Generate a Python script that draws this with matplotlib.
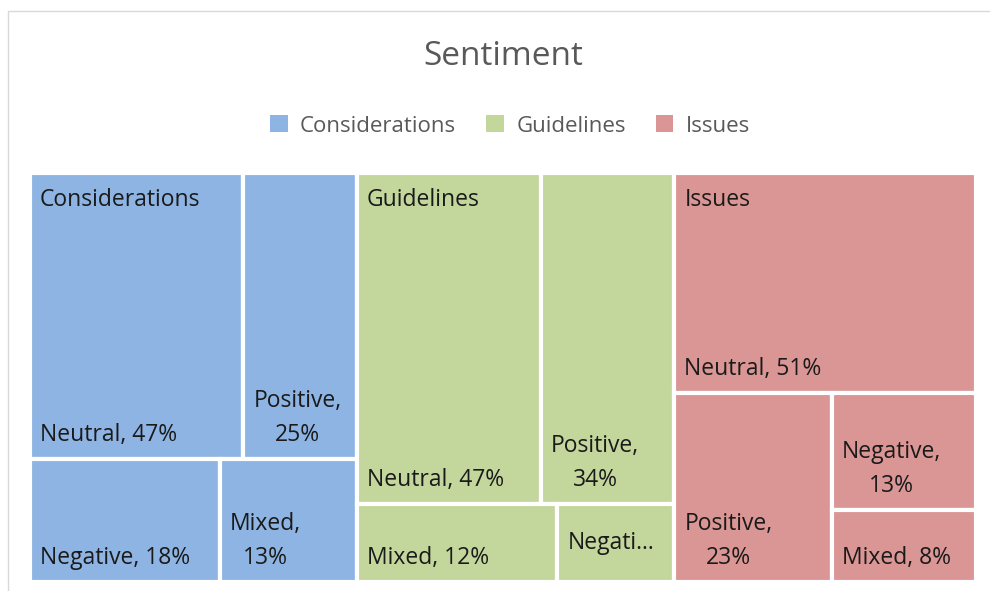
import matplotlib
matplotlib.use('Agg')
import matplotlib.pyplot as plt
from matplotlib.patches import Rectangle, Patch

plt.rcParams['font.family'] = ['Open Sans', 'DejaVu Sans']

groups = ['Considerations', 'Guidelines', 'Issues']
colors = ['#8EB4E3', '#C3D69B', '#D99694']

cons_labels = ['Neutral', 'Positive', 'Negative', 'Mixed']
cons_values = [47, 25, 18, 13]
guide_labels = ['Neutral', 'Positive', 'Mixed', 'Negative']
guide_values = [47, 34, 12, 7]
issue_labels = ['Neutral', 'Positive', 'Negative', 'Mixed']
issue_values = [51, 23, 13, 8]

# how Excel split each group: 'row' = side by side, 'col' = stacked
cons_layout = ('col', [('row', [0, 1]), ('row', [2, 3])])
guide_layout = ('col', [('row', [0, 1]), ('row', [2, 3])])
issue_layout = ('col', [0, ('row', [1, ('col', [2, 3])])])

all_labels = [cons_labels, guide_labels, issue_labels]
all_values = [cons_values, guide_values, issue_values]
layouts = [cons_layout, guide_layout, issue_layout]


def total(node, vals):
    if isinstance(node, int):
        return vals[node]
    return sum(total(c, vals) for c in node[1])


def split(node, vals, x, y, w, h, out):
    if isinstance(node, int):
        out[node] = (x, y, w, h)
        return
    s = total(node, vals)
    off = 0
    for c in node[1]:
        f = total(c, vals) / s
        if node[0] == 'row':
            split(c, vals, x + off * w, y, f * w, h, out)
        else:
            split(c, vals, x, y + off * h, w, f * h, out)
        off += f


W, H = 990, 591
fig = plt.figure(figsize=(W / 100, H / 100), dpi=100)

# chart-area border
fig.add_artist(Rectangle((8 / W, -0.1), 1.2, 1.1 - 11 / H, fill=False,
                         edgecolor='#D9D9D9', lw=1, transform=fig.transFigure))

ax = fig.add_axes([30 / W, 9 / H, 946 / W, 409 / H])
ax.set_xlim(0, 1)
ax.set_ylim(1, 0)
ax.axis('off')

fig.text(503 / W, 1 - 65 / H, 'Sentiment', ha='center', va='baseline',
         fontsize=24, color='#595959')

handles = [Patch(facecolor=c, edgecolor='none', label=g) for g, c in zip(groups, colors)]
fig.legend(handles=handles, loc='center', bbox_to_anchor=(510 / W, 1 - 126 / H), ncol=3,
           frameon=False, fontsize=16, handlelength=0.8, handleheight=0.8,
           handletextpad=0.55, columnspacing=1.35, labelcolor='#595959')

grand = sum(sum(v) for v in all_values)
renderer = fig.canvas.get_renderer()
px = 1 / 946  # one pixel in data units (x)
py = 1 / 409
fs = 16.5

gx = 0
for g, color, labels, vals, lay in zip(groups, colors, all_labels, all_values, layouts):
    gw = sum(vals) / grand
    rects = {}
    split(lay, vals, gx, 0, gw, 1, rects)
    for i, (x, y, w, h) in rects.items():
        ax.add_patch(Rectangle((x, y), w, h, facecolor=color, edgecolor='white', lw=3))
        name, pct = labels[i], f'{vals[i]}%'
        avail_w = w / px - 22
        avail_h = h / py - 20
        t = ax.text(x + 10 * px, y + h - 12 * py, f'{name}, {pct}', ha='left', va='bottom',
                    fontsize=fs, color='#1a1a1a', multialignment='center', linespacing=1.55)
        bb = t.get_window_extent(renderer)
        if bb.width > avail_w:
            t.set_text(f'{name},\n{pct}')
            bb = t.get_window_extent(renderer)
            if bb.width > avail_w or bb.height > avail_h:
                k = len(name)
                while k > 1:
                    t.set_text(name[:k] + '...')
                    if t.get_window_extent(renderer).width <= avail_w:
                        break
                    k -= 1
                t.set_va('center')
                t.set_y(y + h / 2)
    ax.text(gx + 10 * px, 15 * py, g, ha='left', va='top', fontsize=fs, color='#1a1a1a')
    gx += gw

fig.savefig('out.png', dpi=100)
